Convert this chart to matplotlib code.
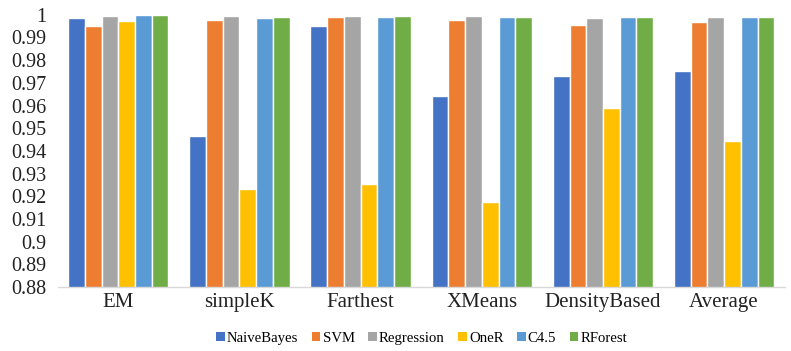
import matplotlib
matplotlib.use("Agg")
import matplotlib.pyplot as plt
import numpy as np

categories = ["EM", "simpleK", "Farthest", "XMeans", "DensityBased", "Average"]
series_names = ["NaiveBayes", "SVM", "Regression", "OneR", "C4.5", "RForest"]
naive_bayes = [0.9984, 0.9464, 0.9950, 0.9640, 0.9732, 0.9754]
svm = [0.9951, 0.9976, 0.9992, 0.9976, 0.9957, 0.9970]
regression = [0.9994, 0.9995, 0.9995, 0.9995, 0.9984, 0.9992]
one_r = [0.9972, 0.9234, 0.9253, 0.9173, 0.9591, 0.9442]
c45 = [0.9997, 0.9984, 0.9991, 0.9989, 0.9989, 0.9989]
rforest = [0.9997, 0.9989, 0.9995, 0.9992, 0.9992, 0.9992]
ytick_values = [0.88, 0.89, 0.90, 0.91, 0.92, 0.93, 0.94, 0.95, 0.96, 0.97, 0.98, 0.99, 1.0]
ytick_labels = ["0.88", "0.89", "0.9", "0.91", "0.92", "0.93", "0.94", "0.95", "0.96", "0.97", "0.98", "0.99", "1"]

colors = ["#4472C4", "#ED7D31", "#A5A5A5", "#FFC000", "#5B9BD5", "#70AD47"]
series = [naive_bayes, svm, regression, one_r, c45, rforest]

plt.rcParams['font.family'] = ['Liberation Serif', 'DejaVu Serif']

fig = plt.figure(figsize=(7.91, 3.51), dpi=100)
ax = fig.add_axes([0.073, 0.182, 0.919, 0.776])

x = np.arange(len(categories))
w = 0.138
for i, (vals, name, c) in enumerate(zip(series, series_names, colors)):
    ax.bar(x + (i - 2.5) * w, vals, width=w, color=c, edgecolor="white",
           linewidth=1.0, label=name)

ax.set_ylim(0.88, 1.0)
ax.set_xlim(-0.5, len(categories) - 0.5)
ax.set_yticks(ytick_values)
ax.set_yticklabels(ytick_labels)
ax.set_xticks(x)
ax.set_xticklabels(categories)
ax.tick_params(axis='x', length=0, labelsize=15, colors="#222222", pad=4)
ax.tick_params(axis='y', length=0, labelsize=14.5, colors="#222222", pad=8)
for s in ["top", "right", "left"]:
    ax.spines[s].set_visible(False)
ax.spines["bottom"].set_color("#D9D9D9")
ax.spines["bottom"].set_linewidth(1.0)

leg = fig.legend(loc="center", bbox_to_anchor=(0.533, 0.037), ncol=6, frameon=False,
                 fontsize=10.6, handlelength=0.6, handleheight=0.6,
                 handletextpad=0.15, columnspacing=0.9)
for h in leg.legend_handles:
    h.set_edgecolor("none")

fig.savefig("out.png", dpi=100)
